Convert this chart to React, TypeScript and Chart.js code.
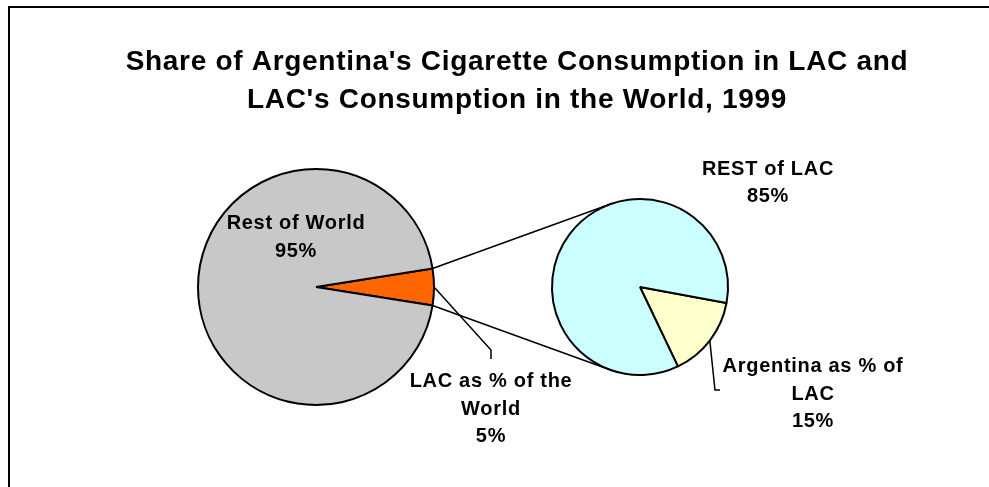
import React, { useEffect, useRef } from "react";
import { Chart, registerables } from "chart.js";

Chart.register(...registerables);

// ---- data ----
const titleLines = [
  "Share of Argentina's Cigarette Consumption in LAC and",
  "LAC's Consumption in the World, 1999",
];
const worldCategories = ["LAC as % of the World", "Rest of World"];
const worldValues = [5, 95];
const worldLabelLines = [["LAC as % of the", "World"], ["Rest of World"]];
const lacCategories = ["Argentina as % of LAC", "REST of LAC"];
const lacValues = [15, 85];
const lacLabelLines = [["Argentina as % of", "LAC"], ["REST of LAC"]];

const W = 989;
const H = 487;
const FONT = '"Liberation Sans", Arial, sans-serif';

export default function App() {
  const bottomRef = useRef<HTMLCanvasElement | null>(null);
  const topRef = useRef<HTMLCanvasElement | null>(null);

  useEffect(() => {
    if (!bottomRef.current || !topRef.current) return;

    // secondary pie (LAC breakdown)
    const lacChart = new Chart(bottomRef.current, {
      type: "pie",
      data: {
        labels: lacCategories,
        datasets: [
          {
            data: lacValues,
            backgroundColor: ["#FFFFCC", "#CCFFFF"],
            borderColor: "#000000",
            borderWidth: 2,
          },
        ],
      },
      options: {
        responsive: false,
        animation: false,
        rotation: 100.5,
        radius: 88,
        layout: { padding: { left: 552, right: 261, top: 199, bottom: 112 } },
        events: [],
        plugins: { legend: { display: false }, tooltip: { enabled: false }, title: { display: false } },
      },
    });

    const overlay = {
      id: "overlay",
      beforeDraw(chart: any) {
        const ctx = chart.ctx;
        ctx.save();
        ctx.strokeStyle = "#000";
        ctx.lineWidth = 2;
        ctx.strokeRect(9, 7, W + 20, H + 20);
        ctx.restore();
      },
      afterDraw(chart: any) {
        const ctx = chart.ctx as CanvasRenderingContext2D;
        const a0 = chart.getDatasetMeta(0).data[0].getProps(["x", "y", "startAngle", "endAngle", "outerRadius"], true);
        const b0 = lacChart.getDatasetMeta(0).data[0] as any;
        const bp = b0.getProps(["x", "y", "startAngle", "endAngle", "outerRadius"], true);
        ctx.save();
        ctx.strokeStyle = "#000";
        ctx.lineWidth = 1.5;
        // connector lines
        const R = a0.outerRadius;
        const r2 = bp.outerRadius;
        const upAng = (-108.5 * Math.PI) / 180;
        const dnAng = (108.5 * Math.PI) / 180;
        ctx.beginPath();
        ctx.moveTo(a0.x + R * Math.cos(a0.startAngle), a0.y + R * Math.sin(a0.startAngle));
        ctx.lineTo(bp.x + r2 * Math.cos(upAng), bp.y + r2 * Math.sin(upAng));
        ctx.moveTo(a0.x + R * Math.cos(a0.endAngle), a0.y + R * Math.sin(a0.endAngle));
        ctx.lineTo(bp.x + r2 * Math.cos(dnAng), bp.y + r2 * Math.sin(dnAng));
        ctx.stroke();
        // leader lines
        const m0 = (a0.startAngle + a0.endAngle) / 2;
        ctx.beginPath();
        ctx.moveTo(a0.x + R * Math.cos(m0), a0.y + R * Math.sin(m0));
        ctx.lineTo(491, 350);
        ctx.lineTo(491, 359);
        const m1 = (bp.startAngle + bp.endAngle) / 2;
        ctx.moveTo(bp.x + r2 * Math.cos(m1), bp.y + r2 * Math.sin(m1));
        ctx.lineTo(715, 390);
        ctx.lineTo(720, 390);
        ctx.stroke();

        // title
        ctx.fillStyle = "#000";
        ctx.textAlign = "center";
        ctx.textBaseline = "alphabetic";
        (ctx as any).letterSpacing = "0.7px";
        ctx.font = `bold 28px ${FONT}`;
        ctx.fillText(titleLines[0], 517, 70);
        ctx.fillText(titleLines[1], 517, 108);

        // labels
        (ctx as any).letterSpacing = "0.7px";
        ctx.font = `bold 20px ${FONT}`;
        const drawLabel = (lines: string[], value: number, cx: number, y0: number) => {
          const all = [...lines, `${value}%`];
          all.forEach((t, i) => ctx.fillText(t, cx, y0 + i * 27.5));
        };
        drawLabel(worldLabelLines[0], worldValues[0], 491, 387);
        drawLabel(worldLabelLines[1], worldValues[1], 296, 229);
        drawLabel(lacLabelLines[0], lacValues[0], 813, 372);
        drawLabel(lacLabelLines[1], lacValues[1], 768, 174.5);
        ctx.restore();
      },
    };

    const worldChart = new Chart(topRef.current, {
      type: "pie",
      data: {
        labels: worldCategories,
        datasets: [
          {
            data: worldValues,
            backgroundColor: ["#FF6600", "#C8C8C8"],
            borderColor: "#000000",
            borderWidth: 2,
          },
        ],
      },
      options: {
        responsive: false,
        animation: false,
        rotation: 81,
        radius: 118,
        layout: { padding: { left: 198, right: 555, top: 169, bottom: 82 } },
        events: [],
        plugins: { legend: { display: false }, tooltip: { enabled: false }, title: { display: false } },
      },
      plugins: [overlay],
    });

    return () => {
      worldChart.destroy();
      lacChart.destroy();
    };
  }, []);

  return (
    <div style={{ position: "absolute", left: 0, top: 0, width: W, height: H, background: "#fff", overflow: "hidden" }}>
      <canvas ref={bottomRef} width={W} height={H} style={{ position: "absolute", left: 0, top: 0 }} />
      <canvas ref={topRef} width={W} height={H} style={{ position: "absolute", left: 0, top: 0 }} />
    </div>
  );
}
